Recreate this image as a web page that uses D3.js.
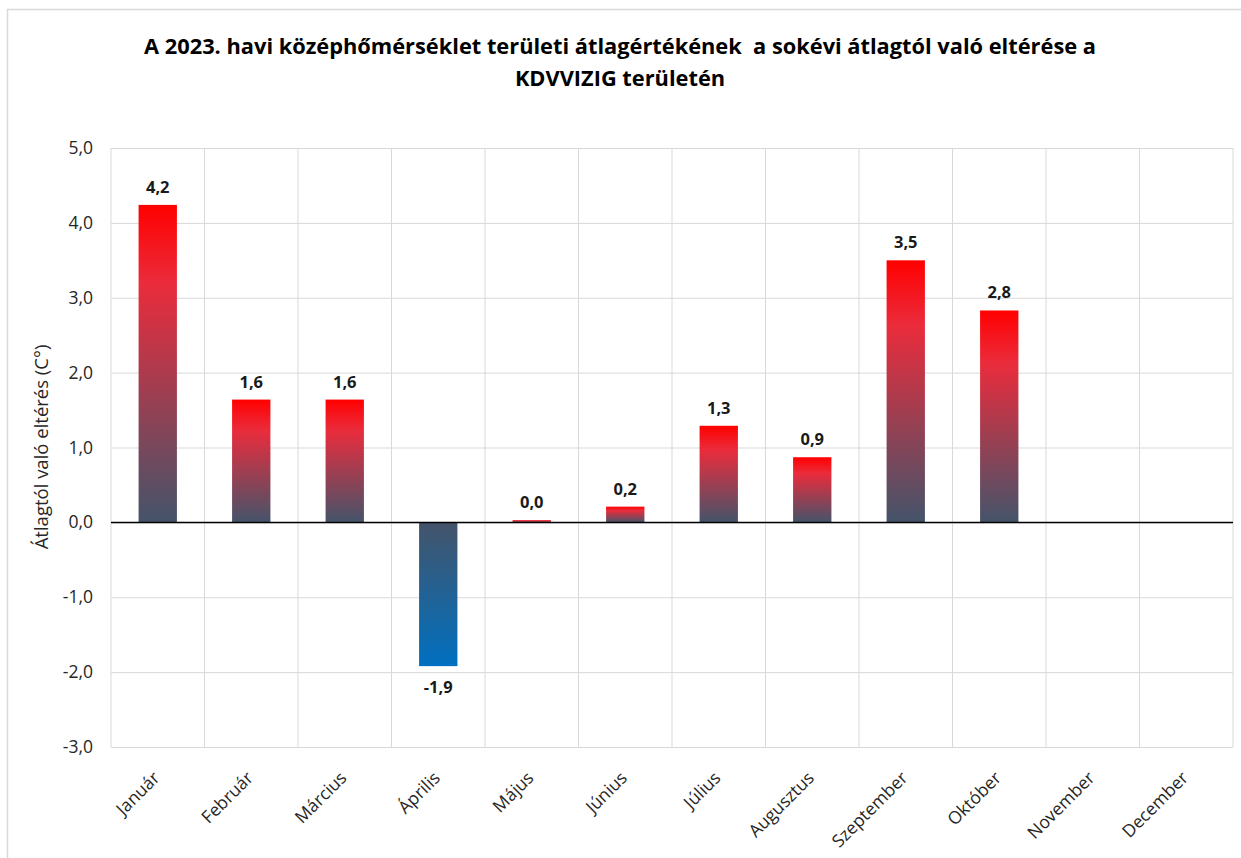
<!DOCTYPE html>
<html>
<head>
<meta charset="utf-8">
<script src="https://cdn.jsdelivr.net/npm/d3@7"></script>
<style>
  body { margin: 0; background: #fff; }
  text { font-family: "Open Sans", "Noto Sans", sans-serif; }
</style>
</head>
<body>
<div id="chart"></div>
<script>
// data
const months = ["Január", "Február", "Március", "Április", "Május", "Június",
  "Július", "Augusztus", "Szeptember", "Október", "November", "December"];
const deviation = [4.24, 1.64, 1.64, -1.92, 0.03, 0.21, 1.29, 0.87, 3.5, 2.83, null, null];
const yTicks = [-3, -2, -1, 0, 1, 2, 3, 4, 5];
const titleLines = ["A 2023. havi középhőmérséklet területi átlagértékének  a sokévi átlagtól való eltérése a",
  "KDVVIZIG területén"];
const yLabel = "Átlagtól való eltérés (C°)";

const W = 1241, H = 858;
const margin = { top: 148, right: 8, bottom: 111, left: 111 },
  width = 1233 - margin.left,
  height = 747 - margin.top;

const fmt = v => d3.format(".1f")(v).replace(".", ",").replace("\u2212", "-");

const root = d3.select("#chart").append("svg")
  .attr("width", W).attr("height", H);

// outer frame
root.append("rect")
  .attr("x", 7.5).attr("y", 9.5)
  .attr("width", W).attr("height", H)
  .attr("fill", "none").attr("stroke", "#d9d9d9").attr("stroke-width", 1.5);

const defs = root.append("defs");
const gPos = defs.append("linearGradient").attr("id", "gradPos")
  .attr("x1", 0).attr("y1", 0).attr("x2", 0).attr("y2", 1);
gPos.append("stop").attr("offset", "0%").attr("stop-color", "#ff0000");
gPos.append("stop").attr("offset", "25%").attr("stop-color", "#ea2c3c");
gPos.append("stop").attr("offset", "100%").attr("stop-color", "#44546a");
const gNeg = defs.append("linearGradient").attr("id", "gradNeg")
  .attr("x1", 0).attr("y1", 0).attr("x2", 0).attr("y2", 1);
gNeg.append("stop").attr("offset", "0%").attr("stop-color", "#44546a");
gNeg.append("stop").attr("offset", "100%").attr("stop-color", "#0070c0");

// title
root.append("g").selectAll("text")
  .data(titleLines)
  .enter().append("text")
    .attr("x", 620)
    .attr("y", (d, i) => 54 + i * 32)
    .attr("text-anchor", "middle")
    .attr("font-size", 21.8)
    .attr("font-weight", "bold")
    .style("white-space", "pre")
    .attr("fill", "#000")
    .text(d => d);

const svg = root.append("g")
  .attr("transform", `translate(${margin.left},${margin.top})`);

const x = d3.scaleBand()
  .domain(months)
  .range([0, width])
  .paddingInner(0.59)
  .paddingOuter(0.295);

const xBand = d3.scaleBand().domain(months).range([0, width]);

const y = d3.scaleLinear()
  .domain([-3, 5])
  .range([height, 0]);

// horizontal gridlines
svg.append("g")
  .call(d3.axisLeft(y).tickValues(yTicks).tickSize(-width).tickFormat(""))
  .call(g => g.select(".domain").remove())
  .call(g => g.selectAll("line").attr("stroke", "#d9d9d9"));

// vertical gridlines between categories
svg.append("g").selectAll("line")
  .data(d3.range(months.length + 1))
  .enter().append("line")
    .attr("x1", i => i * xBand.step())
    .attr("x2", i => i * xBand.step())
    .attr("y1", 0).attr("y2", height)
    .attr("stroke", "#d9d9d9");

// y tick labels
svg.append("g")
  .call(d3.axisLeft(y).tickValues(yTicks).tickSize(0).tickPadding(18).tickFormat(fmt))
  .call(g => g.select(".domain").remove())
  .call(g => g.selectAll("text")
    .attr("font-size", 17.5)
    .attr("fill", "#262626")
    .style("font-family", "'Open Sans', sans-serif"));

// bars
const barData = months.map((m, i) => ({ m, v: deviation[i] })).filter(d => d.v != null);

svg.selectAll("rect.bar")
  .data(barData)
  .enter().append("rect")
    .attr("class", "bar")
    .attr("x", d => x(d.m))
    .attr("y", d => y(Math.max(0, d.v)))
    .attr("width", x.bandwidth())
    .attr("height", d => Math.max(1, Math.abs(y(d.v) - y(0))))
    .attr("fill", d => d.v >= 0 ? "url(#gradPos)" : "url(#gradNeg)");

// value labels
svg.selectAll("text.lbl")
  .data(barData)
  .enter().append("text")
    .attr("class", "lbl")
    .attr("x", d => x(d.m) + x.bandwidth() / 2)
    .attr("y", d => d.v >= 0 ? y(d.v) - 12 : y(d.v) + 27)
    .attr("text-anchor", "middle")
    .attr("font-size", 16.5)
    .attr("font-weight", "bold")
    .attr("fill", "#1a1a1a")
    .text(d => fmt(d.v));

// zero line
svg.append("line")
  .attr("x1", 0).attr("x2", width)
  .attr("y1", y(0)).attr("y2", y(0))
  .attr("stroke", "#000").attr("stroke-width", 1.5);

// x axis labels
svg.append("g")
  .attr("transform", `translate(0,${height})`)
  .call(d3.axisBottom(xBand).tickSize(0).tickPadding(0))
  .call(g => g.select(".domain").remove())
  .selectAll("text")
    .attr("font-size", 17.5)
    .attr("fill", "#262626")
    .attr("dy", 0)
    .attr("transform", "translate(3,32)rotate(-45)")
    .style("text-anchor", "end");

// y axis title
root.append("text")
  .attr("transform", "translate(48,447)rotate(-90)")
  .attr("text-anchor", "middle")
  .attr("font-size", 18.5)
  .attr("fill", "#262626")
  .text(yLabel);
</script>
</body>
</html>
